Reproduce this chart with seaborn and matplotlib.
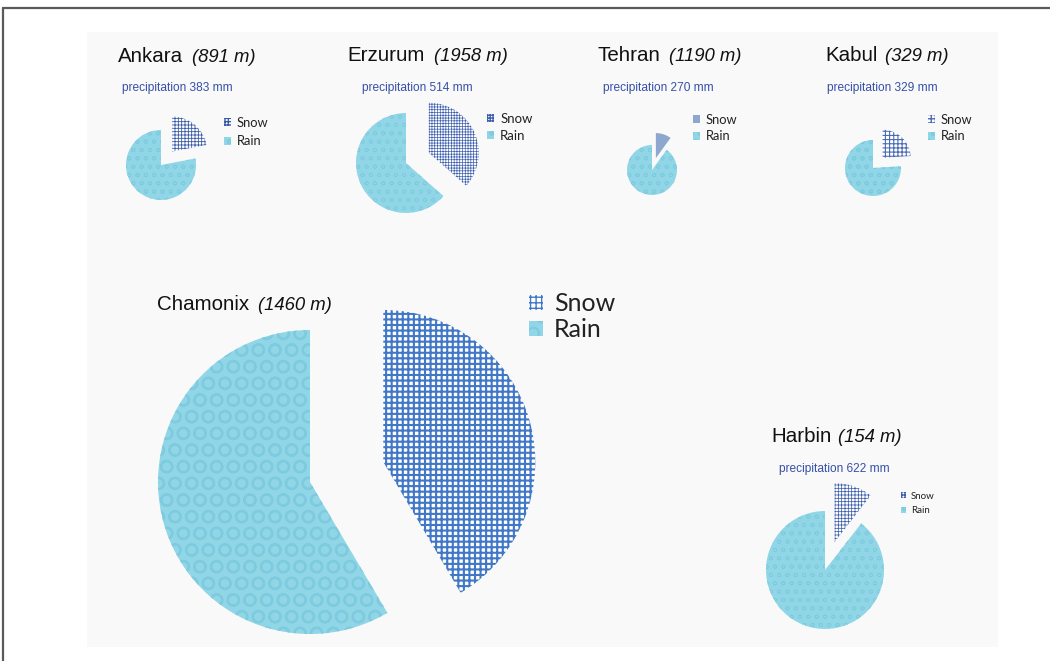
import matplotlib
matplotlib.use("Agg")
import matplotlib.pyplot as plt
import seaborn as sns
from matplotlib.patches import Rectangle
from matplotlib.lines import Line2D
from matplotlib.font_manager import FontProperties

sns.set_theme(style="white")
plt.rcParams['font.family'] = ['Liberation Sans', 'DejaVu Sans']

# ---------------- data ----------------
cities = ["Ankara", "Erzurum", "Tehran", "Kabul", "Chamonix", "Harbin"]
elevations_m = [891, 1958, 1190, 329, 1460, 154]
precip_mm = [383, 514, 270, 329, None, 622]
snow_pct = [22.0, 36.5, 10.0, 24.0, 41.5, 10.5]
rain_pct = [100 - s for s in snow_pct]
series = ["Snow", "Rain"]

# ---------------- layout (pixels) ----------------
W, H = 1050, 661
pie_center = [(161, 165), (406, 163), (652, 170), (873, 168), (310, 482), (825, 570)]
pie_radius = [35, 50, 25, 28, 152, 59]
title_xy = [(118, 62), (347, 61), (598, 61), (825, 61), (157, 310), (771, 442)]
italic_x = [192, 434, 669, 885, 258, 838]
precip_xy = [(122, 91), (362, 91), (603, 91), (827, 91), None, (779, 472)]
legend_x = [224, 487, 693, 928, 529, 901]
legend_yc = [132, 127.5, 128, 128, 316.5, 503.5]
legend_pitch = [22, 21, 20, 20, 33, 17]
legend_fs_pt = [9.3, 9.5, 9.3, 9.3, 18.0, 7.0]

# ---------------- styles ----------------
snow_face = ['white', 'white', '#8ea7cf', 'white', 'white', 'white']
snow_hcol = ['#3b5ba6', '#4062b0', '#8ea7cf', '#4a6ab5', '#4077c6', '#3d5fae']
snow_hatch = ['+++++', '++++++', None, '++++', '+++', '+++++']
snow_hlw = [0.6, 0.5, 0.6, 0.8, 1.5, 0.55]
rain_face = '#90d6e7'
rain_hcol = '#7ecbdf'
rain_hatch = ['oo', 'oo', 'oo', 'oo', 'O', 'oo']

fig = plt.figure(figsize=(W / 100, H / 100), dpi=100)
fig.patch.set_facecolor('white')

# inner light panel and outer frame
fig.add_artist(Rectangle((87 / W, 1 - 647 / H), (998 - 87) / W, (647 - 32) / H,
                         transform=fig.transFigure, facecolor='#f9f9f9',
                         edgecolor='none', zorder=0))
fig.add_artist(Line2D([3 / W, 1.0], [1 - 8 / H, 1 - 8 / H], transform=fig.transFigure,
                      color='#5a5a5a', lw=1.6))
fig.add_artist(Line2D([3 / W, 3 / W], [0.0, 1 - 8 / H], transform=fig.transFigure,
                      color='#5a5a5a', lw=1.6))

K = 1.8
for i, city in enumerate(cities):
    cx, cy = pie_center[i]
    R = pie_radius[i]
    ax = fig.add_axes([(cx - R * K) / W, 1 - (cy + R * K) / H, 2 * R * K / W, 2 * R * K / H])
    with plt.rc_context({'hatch.linewidth': snow_hlw[i]}):
        wedges, _ = ax.pie([snow_pct[i], rain_pct[i]], startangle=90, counterclock=False,
                           explode=[0.5, 0.0], radius=1.0,
                           colors=[snow_face[i], rain_face],
                           wedgeprops=dict(linewidth=0))
        ws, wr = wedges
        ws.set_edgecolor(snow_hcol[i])
        ws.set_linewidth(0)
        if snow_hatch[i]:
            ws.set_hatch(snow_hatch[i])
    with plt.rc_context({'hatch.linewidth': 0.8}):
        wr.set_edgecolor(rain_hcol)
        wr.set_linewidth(0)
        wr.set_hatch(rain_hatch[i])
    ax.set_xlim(-K, K)
    ax.set_ylim(-K, K)
    ax.set_aspect('equal')
    ax.axis('off')

    # title
    tx, ty = title_xy[i]
    fig.text(tx / W, 1 - ty / H, city, fontsize=14.8, color='#111111',
             ha='left', va='baseline')
    fig.text(italic_x[i] / W, 1 - ty / H, f"({elevations_m[i]} m)", fontsize=13.3,
             style='italic', color='#111111', ha='left', va='baseline')

    # precipitation
    if precip_xy[i] is not None and precip_mm[i] is not None:
        px, py = precip_xy[i]
        fig.text(px / W, 1 - py / H, f"precipitation {precip_mm[i]} mm", fontsize=8.6,
                 color='#3550a8', ha='left', va='baseline')

    # legend
    fs_px = legend_fs_pt[i] * 100 / 72
    ls = max((legend_pitch[i] - 1.2 * fs_px) / fs_px, 0.0)
    fig.legend(handles=wedges, labels=series, loc='center left',
               bbox_to_anchor=(legend_x[i] / W, 1 - legend_yc[i] / H),
               frameon=False, prop=FontProperties(family='Lato', size=legend_fs_pt[i]),
               handlelength=0.55, handleheight=0.55, handletextpad=0.45,
               labelspacing=ls, borderpad=0, borderaxespad=0, labelcolor='#222222')

fig.savefig('out.png', dpi=100, facecolor='white')
